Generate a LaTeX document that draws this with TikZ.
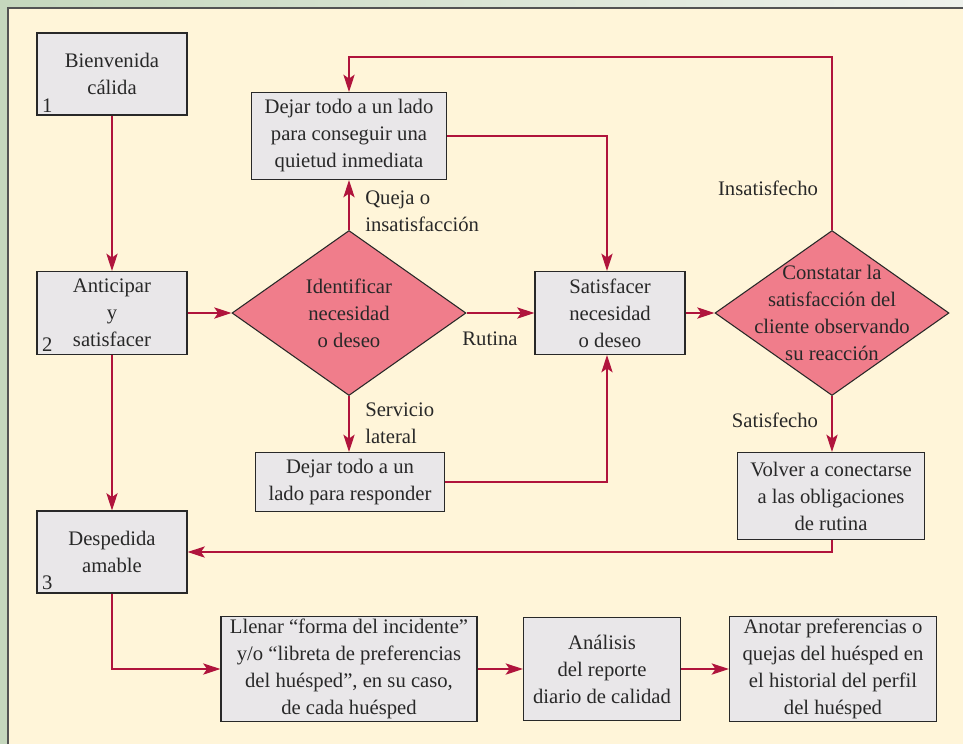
\documentclass[tikz,border=0pt]{standalone}
\usepackage{fontspec}
\setmainfont{Liberation Serif}
\usepackage{tikz}
\usetikzlibrary{arrows.meta, positioning, shapes.geometric, calc}
\usepackage{xcolor}
\definecolor{panel}{RGB}{255,245,217}
\definecolor{frame}{RGB}{197,215,189}
\definecolor{framelight}{RGB}{238,241,236}
\definecolor{boxfill}{RGB}{233,231,233}
\definecolor{decfill}{RGB}{240,125,139}
\definecolor{flowred}{RGB}{176,20,60}
\definecolor{ink}{RGB}{40,40,40}

\tikzset{
  box/.style={draw=ink, line width=0.9pt, fill=boxfill, align=center,
    text=ink, inner sep=2pt},
  decision/.style={diamond, draw=ink, line width=0.8pt, fill=decfill,
    inner sep=0pt, minimum width=175.5pt, minimum height=123.75pt},
  dtext/.style={align=center, text=ink, inner sep=0pt},
  flow/.style={draw=flowred, line width=0.9pt,
    -{Stealth[length=13pt, width=8.5pt, inset=3pt]}},
  branch/.style={text=ink, inner sep=0pt, align=left},
  stepno/.style={text=ink, inner xsep=4pt, inner ysep=2.5pt, anchor=south west}
}

\begin{document}
\begin{tikzpicture}[x=0.75pt, y=-0.75pt, font=\fontsize{15.5}{20.25}\selectfont]
  % frame and panel
  \useasboundingbox (0,0) rectangle (963,744);
  \fill[frame] (0,0) rectangle (963,744);
  \shade[left color=frame, right color=framelight] (0,0) rectangle (963,8);
  \fill[panel] (8,8) rectangle (963,744);
  \draw[ink!80, line width=1.6pt] (8,744) -- (8,8) -- (963,8);

  % left column
  \node[box, minimum width=112.5pt, minimum height=61.5pt] (welcome) at (112,74)
    {Bienvenida\\cálida};
  \node[stepno] (n1) at (welcome.south west) {1};
  \node[box, minimum width=112.5pt, minimum height=62.25pt] (anticipate) at (112,313)
    {Anticipar\\y\\satisfacer};
  \node[stepno] (n2) at (anticipate.south west) {2};
  \node[box, minimum width=112.5pt, minimum height=61.5pt] (farewell) at (112,552)
    {Despedida\\amable};
  \node[stepno] (n3) at (farewell.south west) {3};

  % middle
  \node[box, minimum width=146.25pt, minimum height=65.25pt] (quiet) at (349,136)
    {Dejar todo a un lado\\para conseguir una\\quietud inmediata};
  \node[decision, label={[dtext]center:{Identificar\\necesidad\\o deseo}}] (identify)
    at (349,313) {};
  \node[box, minimum width=141.75pt, minimum height=44.25pt] (respond) at (350,482)
    {Dejar todo a un\\lado para responder};
  \node[box, minimum width=112.5pt, minimum height=62.25pt] (satisfy) at (610,313)
    {Satisfacer\\necesidad\\o deseo};

  % right
  \node[decision, label={[dtext]center:{Constatar la\\satisfacción del\\cliente observando\\su reacción}}]
    (check) at (832,313) {};
  \node[box, minimum width=140.25pt, minimum height=65.25pt] (reconnect) at (831,496)
    {Volver a conectarse\\a las obligaciones\\de rutina};

  % bottom row
  \node[box, minimum width=192pt, minimum height=77.25pt] (fill) at (349,669)
    {Llenar “forma del incidente”\\y/o “libreta de preferencias\\del huésped”, en su caso,\\de cada huésped};
  \node[box, minimum width=117.75pt, minimum height=77.25pt] (analysis) at (602,669)
    {Análisis\\del reporte\\diario de calidad};
  \node[box, minimum width=155.25pt, minimum height=77.25pt] (annotate) at (833,669)
    {Anotar preferencias o\\quejas del huésped en\\el historial del perfil\\del huésped};

  % branch labels
  \node[branch, anchor=west] (lcomplaint) at (365,211) {Queja o\\insatisfacción};
  \node[branch, anchor=west] (lservice) at (365,423) {Servicio\\lateral};
  \node[branch] (lroutine) at (490,339) {Rutina};
  \node[branch] (lunhappy) at (768,188) {Insatisfecho};
  \node[branch] (lhappy) at (775,420) {Satisfecho};

  % connectors
  \coordinate (loop) at (832,57);
  \draw[flow] (welcome.south) -- (anticipate.north);
  \draw[flow] (anticipate.east) -- (identify.west);
  \draw[flow] (anticipate.south) -- (farewell.north);
  \draw[flow] (identify.north) -- (quiet.south);
  \draw[flow] (identify.south) -- (respond.north -| identify.south);
  \draw[flow] (identify.east) -- (satisfy.west);
  \draw[flow] (quiet.east) -| ([xshift=-2.25pt]satisfy.north);
  \draw[flow] (respond.east) -| ([xshift=-2.25pt]satisfy.south);
  \draw[flow] (satisfy.east) -- (check.west);
  \draw[flow] (check.north) -- (loop) -| (quiet.north);
  \draw[flow] (check.south) -- (reconnect.north -| check.south);
  \draw[flow] (reconnect.south -| check.south) |- (farewell.east);
  \draw[flow] (farewell.south) |- (fill.west);
  \draw[flow] (fill.east) -- (analysis.west);
  \draw[flow] (analysis.east) -- (annotate.west);
\end{tikzpicture}
\end{document}
